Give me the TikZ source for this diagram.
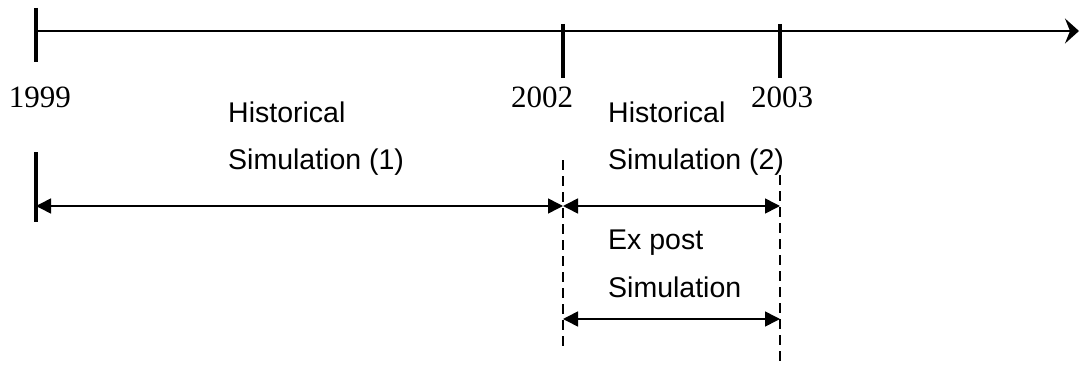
\documentclass[tikz,border=0pt]{standalone}
\usepackage{fontspec}
\newfontfamily\labfont{Liberation Sans}
\newfontfamily\yearfont{Liberation Serif}
\usetikzlibrary{arrows.meta}

\tikzset{
  axisline/.style={line width=1.7pt, -{Stealth[length=14pt,width=25pt,inset=5pt]}},
  tickmark/.style={line width=3.3pt},
  span/.style={line width=1.6pt, {Triangle[length=15pt,width=15pt]}-{Triangle[length=15pt,width=15pt]}},
  guide/.style={line width=2.3pt, dash pattern=on 10pt off 6pt},
  yearlabel/.style={inner sep=0pt, anchor=base, font=\yearfont\fontsize{31}{31}\selectfont},
  textlabel/.style={inner sep=0pt, anchor=base west, font=\labfont\fontsize{28.5}{28.5}\selectfont}
}

\begin{document}
\begin{tikzpicture}[x=1pt, y=-1pt]
  \useasboundingbox (0,0) rectangle (1080,369);

  % time axis
  \coordinate (y99) at (36,31);
  \coordinate (y02) at (563,31);
  \coordinate (y03) at (780,31);
  \coordinate (axisend) at (1079,31);
  \draw[axisline] (y99) -- (axisend);

  % year ticks
  \coordinate (y99top) at (36,8);    \coordinate (y99bot) at (36,62);
  \coordinate (y02top) at (563,24);  \coordinate (y02bot) at (563,78);
  \coordinate (y03top) at (780,24);  \coordinate (y03bot) at (780,78);
  \draw[tickmark] (y99top) -- (y99bot);
  \draw[tickmark] (y02top) -- (y02bot);
  \draw[tickmark] (y03top) -- (y03bot);

  % year labels
  \node[yearlabel] (l99) at (40,107) {1999};
  \node[yearlabel] (l02) at (542,107) {2002};
  \node[yearlabel] (l03) at (782,107) {2003};

  % start marker of the first period
  \coordinate (s99top) at (36,152);
  \coordinate (s99bot) at (36,222);
  \draw[tickmark] (s99top) -- (s99bot);

  % dashed guides at 2002 and 2003
  \coordinate (g02top) at (563,160);  \coordinate (g02bot) at (563,350);
  \coordinate (g03top) at (780,175);  \coordinate (g03bot) at (780,367);
  \draw[guide] (g02top) -- (g02bot);
  \draw[guide] (g03top) -- (g03bot);

  % period spans
  \coordinate (a1l) at (36,206);   \coordinate (a1r) at (563,206);
  \coordinate (a2l) at (563,206);  \coordinate (a2r) at (780,206);
  \coordinate (a3l) at (563,319);  \coordinate (a3r) at (780,319);
  \draw[span] (a1l) -- (a1r);
  \draw[span] (a2l) -- (a2r);
  \draw[span] (a3l) -- (a3r);

  % period labels
  \node[textlabel] (h1a) at (228,122) {Historical};
  \node[textlabel] (h1b) at (228,169) {Simulation (1)};
  \node[textlabel] (h2a) at (608,122) {Historical};
  \node[textlabel] (h2b) at (608,169) {Simulation (2)};
  \node[textlabel] (e1a) at (608,249) {Ex post};
  \node[textlabel] (e1b) at (608,297) {Simulation};
\end{tikzpicture}
\end{document}
